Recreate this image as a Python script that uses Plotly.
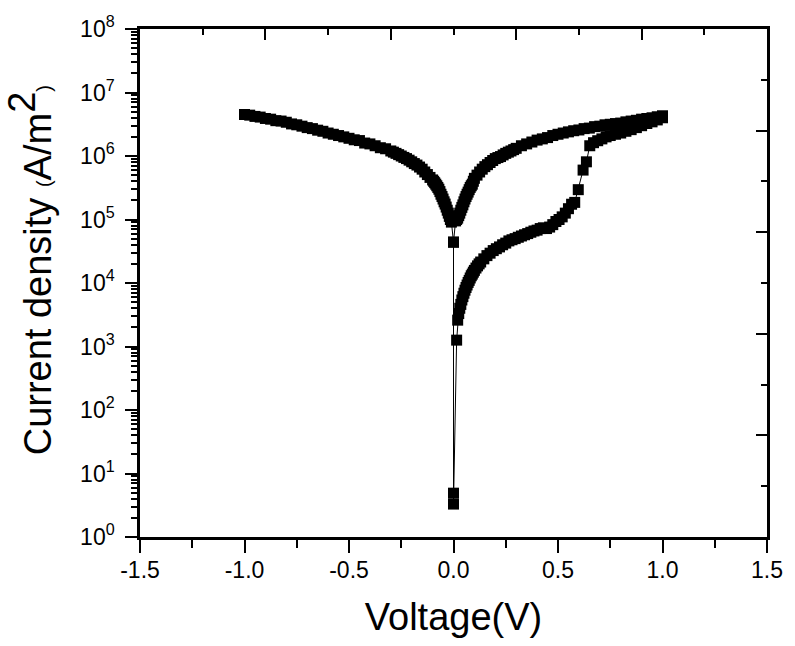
import plotly.graph_objects as go

# Reverse-bias branch, -1.0 V -> -0.01 V
V_NEG = [-1.000, -0.975, -0.950, -0.925, -0.900, -0.875, -0.850, -0.825, -0.800, -0.775,
         -0.750, -0.725, -0.700, -0.675, -0.650, -0.625, -0.600, -0.575, -0.550, -0.525,
         -0.500, -0.475, -0.450, -0.425, -0.400, -0.375, -0.350, -0.325, -0.300, -0.2875,
         -0.275, -0.2625, -0.250, -0.2375, -0.225, -0.2125, -0.200, -0.1875, -0.175, -0.1625,
         -0.150, -0.1375, -0.125, -0.1125, -0.100, -0.095, -0.090, -0.085, -0.080, -0.075,
         -0.070, -0.065, -0.060, -0.055, -0.050, -0.045, -0.040, -0.035, -0.030, -0.025,
         -0.020, -0.015, -0.010]
J_NEG = [4.5e6, 4.4e6, 4.2e6, 4.1e6, 3.9e6, 3.8e6, 3.6e6, 3.55e6, 3.4e6, 3.2e6,
         3.1e6, 2.95e6, 2.8e6, 2.7e6, 2.55e6, 2.45e6, 2.3e6, 2.2e6, 2.1e6, 2.0e6,
         1.9e6, 1.8e6, 1.75e6, 1.6e6, 1.55e6, 1.45e6, 1.35e6, 1.3e6, 1.2e6, 1.15e6,
         1.1e6, 1.05e6, 1.0e6, 9.5e5, 9.1e5, 8.6e5, 8.1e5, 7.6e5, 7.2e5, 6.7e5,
         6.2e5, 5.6e5, 5.1e5, 4.6e5, 4.2e5, 4.0e5, 3.8e5, 3.6e5, 3.4e5, 3.2e5,
         3.0e5, 2.75e5, 2.5e5, 2.3e5, 2.1e5, 1.9e5, 1.75e5, 1.57e5, 1.4e5, 1.26e5,
         1.12e5, 1.0e5, 9.1e4]

# Points recorded at 0 V (valley of the reverse sweep and the low-current start)
V_ZERO = [0.0, 0.0, 0.0]
J_ZERO = [4.4e4, 4.9, 3.3]

# Forward sweep in the high-resistance state, switching near 0.6 V
V_LOW = [0.015, 0.020, 0.025, 0.030, 0.035, 0.040, 0.045, 0.050, 0.055, 0.060,
         0.065, 0.070, 0.075, 0.080, 0.085, 0.090, 0.095, 0.100, 0.1075, 0.115,
         0.1225, 0.130, 0.145, 0.160, 0.175, 0.190, 0.205, 0.220, 0.235, 0.250,
         0.265, 0.280, 0.295, 0.310, 0.325, 0.340, 0.355, 0.370, 0.385, 0.400,
         0.415, 0.430, 0.445, 0.460, 0.475, 0.490, 0.505, 0.520, 0.535, 0.550,
         0.565, 0.580, 0.597, 0.620, 0.636, 0.652, 0.670, 0.690, 0.710, 0.730,
         0.750, 0.775, 0.800, 0.825, 0.850, 0.875, 0.900, 0.925, 0.950, 0.975,
         1.000]
J_LOW = [1.26e3, 2.6e3, 3.3e3, 4.0e3, 4.6e3, 5.4e3, 6.1e3, 6.9e3, 7.7e3, 8.5e3,
         9.3e3, 1.02e4, 1.1e4, 1.2e4, 1.3e4, 1.38e4, 1.48e4, 1.58e4, 1.72e4, 1.86e4,
         2.0e4, 2.14e4, 2.4e4, 2.7e4, 2.95e4, 3.24e4, 3.47e4, 3.7e4, 4.0e4, 4.25e4,
         4.6e4, 4.8e4, 5.0e4, 5.25e4, 5.5e4, 5.75e4, 6.0e4, 6.3e4, 6.6e4, 6.8e4,
         7.2e4, 7.4e4, 7.2e4, 7.6e4, 8.3e4, 9.3e4, 1.0e5, 1.1e5, 1.26e5, 1.48e5,
         1.74e5, 1.86e5, 2.95e5, 6.0e5, 8.1e5, 1.45e6, 1.62e6, 1.74e6, 1.86e6, 2.0e6,
         2.1e6, 2.2e6, 2.3e6, 2.45e6, 2.6e6, 2.8e6, 3.0e6, 3.25e6, 3.45e6, 3.7e6,
         4.0e6]

# Return sweep in the low-resistance state (listed by increasing voltage)
V_HIGH = [0.010, 0.015, 0.020, 0.025, 0.030, 0.035, 0.040, 0.045, 0.050, 0.055,
          0.060, 0.065, 0.070, 0.075, 0.080, 0.085, 0.090, 0.095, 0.100, 0.1125,
          0.125, 0.1375, 0.150, 0.1625, 0.175, 0.1875, 0.200, 0.2125, 0.225, 0.2375,
          0.250, 0.2625, 0.275, 0.2875, 0.300, 0.325, 0.350, 0.375, 0.400, 0.425,
          0.450, 0.475, 0.500, 0.525, 0.550, 0.575, 0.600, 0.625, 0.650, 0.675,
          0.700, 0.725, 0.750, 0.775, 0.800, 0.825, 0.850, 0.875, 0.900, 0.925,
          0.950, 0.975, 1.000]
J_HIGH = [9.5e4, 1.0e5, 1.05e5, 1.15e5, 1.26e5, 1.4e5, 1.55e5, 1.7e5, 1.9e5, 2.1e5,
          2.3e5, 2.5e5, 2.7e5, 2.95e5, 3.2e5, 3.4e5, 3.6e5, 4.0e5, 4.45e5, 5.0e5,
          5.6e5, 6.2e5, 6.8e5, 7.3e5, 7.9e5, 8.5e5, 9.1e5, 9.45e5, 9.8e5, 1.04e6,
          1.1e6, 1.15e6, 1.2e6, 1.26e6, 1.32e6, 1.45e6, 1.55e6, 1.66e6, 1.78e6, 1.86e6,
          1.95e6, 2.1e6, 2.2e6, 2.3e6, 2.4e6, 2.5e6, 2.57e6, 2.7e6, 2.75e6, 2.9e6,
          2.95e6, 3.1e6, 3.16e6, 3.24e6, 3.3e6, 3.45e6, 3.55e6, 3.65e6, 3.8e6, 3.9e6,
          4.0e6, 4.15e6, 4.3e6]

X_TICKS = [-1.5, -1.0, -0.5, 0.0, 0.5, 1.0, 1.5]
X_TICK_TEXT = ["-1.5", "-1.0", "-0.5", "0.0", "0.5", "1.0", "1.5"]
Y_EXPONENTS = [0, 1, 2, 3, 4, 5, 6, 7, 8]

# One continuous measurement trace in acquisition order
volts = V_NEG + V_ZERO + V_LOW + V_HIGH[::-1] + [V_ZERO[0]]
amps = J_NEG + J_ZERO + J_LOW + J_HIGH[::-1] + [J_ZERO[0]]

FONT = "Liberation Sans, Arial, sans-serif"
BLACK = "#000000"

fig = go.Figure()
fig.add_trace(go.Scatter(
    x=volts, y=amps, mode="lines+markers",
    line=dict(color=BLACK, width=1),
    marker=dict(symbol="square", size=11, color=BLACK, line=dict(width=0)),
    showlegend=False, hoverinfo="skip",
))
# Empty trace so the frame axes (top / right) get their own subplot
fig.add_trace(go.Scatter(x=[], y=[], xaxis="x2", yaxis="y2", showlegend=False))

fig.update_layout(
    width=795, height=646,
    margin=dict(l=140, r=23, t=21, b=109),
    paper_bgcolor="white", plot_bgcolor="white",
    font=dict(family=FONT, color=BLACK),
    xaxis=dict(
        range=[-1.5, 1.5], tickvals=X_TICKS, ticktext=X_TICK_TEXT,
        ticks="outside", ticklen=13, tickwidth=2, tickcolor=BLACK,
        minor=dict(ticks="outside", dtick=0.25, ticklen=8, tickwidth=2, tickcolor=BLACK),
        showline=True, linewidth=2.5, linecolor=BLACK,
        showgrid=False, zeroline=False,
        tickfont=dict(size=23, family=FONT),
        ticklabelstandoff=-2,
        title=dict(text="Voltage(V)", font=dict(size=38, family=FONT), standoff=22),
    ),
    yaxis=dict(
        type="log", range=[0, 8],
        tickvals=[10 ** e for e in Y_EXPONENTS],
        ticktext=["10<sup>%d</sup>" % e for e in Y_EXPONENTS],
        ticks="outside", ticklen=12, tickwidth=2, tickcolor=BLACK,
        minor=dict(ticks="outside", dtick="D1", ticklen=6, tickwidth=1.5, tickcolor=BLACK),
        showline=True, linewidth=2.5, linecolor=BLACK,
        showgrid=False, zeroline=False,
        tickfont=dict(size=23, family=FONT),
        ticklabelstandoff=6,
    ),
    xaxis2=dict(
        overlaying="x", side="top", anchor="y2", range=[0, 5],
        dtick=1, ticks="inside", ticklen=11, tickwidth=2, tickcolor=BLACK,
        minor=dict(ticks="inside", dtick=0.5, ticklen=6, tickwidth=2, tickcolor=BLACK),
        showticklabels=False, showline=True, linewidth=2.5, linecolor=BLACK,
        showgrid=False, zeroline=False,
    ),
    yaxis2=dict(
        overlaying="y", side="right", anchor="x2", range=[0, 5],
        dtick=1, ticks="inside", ticklen=11, tickwidth=2, tickcolor=BLACK,
        minor=dict(ticks="inside", dtick=0.5, ticklen=6, tickwidth=2, tickcolor=BLACK),
        showticklabels=False, showline=True, linewidth=2.5, linecolor=BLACK,
        showgrid=False, zeroline=False,
    ),
    annotations=[dict(
        text="Current density <span style='font-size:20px'>(</span>A/m"
             "<sup><span style='font-size:38px'>2</span></sup>"
             "<span style='font-size:20px'>)</span>",
        font=dict(size=38, family=FONT, color=BLACK),
        xref="paper", yref="paper", x=0, y=0.525,
        xanchor="center", yanchor="middle", xshift=-110,
        textangle=-90, showarrow=False,
    )],
)

fig.write_html("out.html")
